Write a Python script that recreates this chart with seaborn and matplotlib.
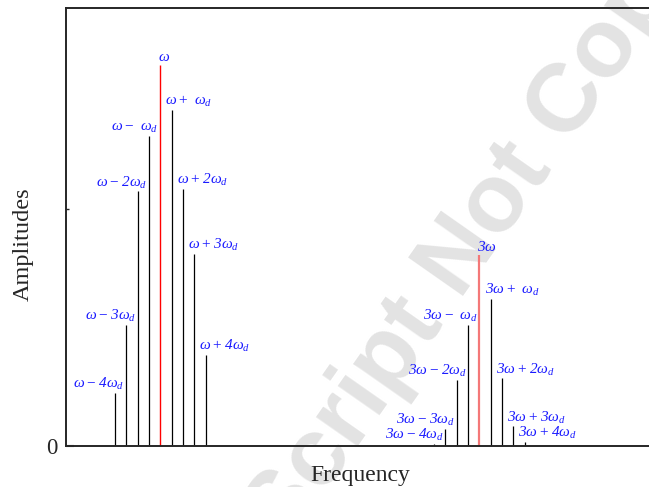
import numpy as np
import pandas as pd
import matplotlib
matplotlib.use("Agg")
import matplotlib.pyplot as plt
import seaborn as sns

sns.set_style("ticks")
plt.rcParams["font.family"] = ["Liberation Serif", "DejaVu Serif"]
plt.rcParams["mathtext.fontset"] = "custom"
plt.rcParams["mathtext.rm"] = "Liberation Serif:italic"
plt.rcParams["mathtext.it"] = "Liberation Serif:italic"

# ----- data -----
w = 1.0        # fundamental
wd = 0.071     # modulation spacing
orders = [-4, -3, -2, -1, 0, 1, 2, 3, 4]
amp_w = [0.139, 0.318, 0.669, 0.814, 1.0, 0.882, 0.675, 0.504, 0.239]
amp_3w = [0.005, 0.045, 0.173, 0.318, 0.501, 0.386, 0.178, 0.052, 0.010]
labels_w = [r"$\omega-4\omega_d$", r"$\omega-3\omega_d$", r"$\omega-2\omega_d$",
            r"$\omega-\ \omega_d$", r"$\omega$", r"$\omega+\ \omega_d$",
            r"$\omega+2\omega_d$", r"$\omega+3\omega_d$", r"$\omega+4\omega_d$"]
labels_3w = [r"$3\omega-4\omega_d$", r"$3\omega-3\omega_d$", r"$3\omega-2\omega_d$",
             r"$3\omega-\ \omega_d$", r"$3\omega$", r"$3\omega+\ \omega_d$",
             r"$3\omega+2\omega_d$", r"$3\omega+3\omega_d$", r"$3\omega+4\omega_d$"]

df = pd.concat([
    pd.DataFrame({"freq": [w + k * wd for k in orders], "amp": amp_w,
                  "k": orders, "label": labels_w, "group": "w"}),
    pd.DataFrame({"freq": [3 * w + k * wd for k in orders], "amp": amp_3w,
                  "k": orders, "label": labels_3w, "group": "3w"}),
], ignore_index=True)

fig = plt.figure(figsize=(6.49, 4.87), dpi=100)
ax = fig.add_axes([66 / 649, 41 / 487, 589 / 649, 438 / 487])
ax.set_facecolor("none")
ax.set_zorder(2)

# watermark (behind the axes content)
fig.text(0.735, 0.52, "Script Not Copy", rotation=55, fontsize=70,
         fontweight="bold", family="Liberation Sans", color="#e3e3e3",
         ha="center", va="center", zorder=0)

side = df[df["k"] != 0]
ax.vlines(side["freq"], 0, side["amp"], color="black", lw=0.9)
ax.vlines(w, 0, df.loc[(df.group == "w") & (df.k == 0), "amp"], color="#ff0000", lw=1.0)
ax.vlines(3 * w, 0, df.loc[(df.group == "3w") & (df.k == 0), "amp"], color="#f47878", lw=1.6)

for _, r in df.iterrows():
    if r["k"] < 0:
        ha, dx = "right", 7.0
    elif r["k"] > 0:
        ha, dx = "left", -4.5
    else:
        ha, dx = "left", -1.5
    ax.annotate(r["label"], (r["freq"], r["amp"]), xytext=(dx, 0.5),
                textcoords="offset points", ha=ha, va="bottom",
                color="#1a1aff", fontsize=11)

ax.set_xlim(0.41, 4.1)
ax.set_ylim(0, 1.15)
ax.set_xticks([])
ax.set_yticks([0])
ax.set_yticklabels(["0"], fontsize=16.5)
ax.set_yticks([0.622], minor=True)
ax.tick_params(axis="y", which="major", direction="in", length=6, width=1.5, pad=6)
ax.tick_params(axis="y", which="minor", direction="in", length=2, width=1)
ax.set_xlabel("Frequency", fontsize=17, labelpad=14)
ax.set_ylabel("Amplitudes", fontsize=17.5)
ax.yaxis.set_label_coords(-0.055, 0.46)
for s in ["left", "bottom", "top"]:
    ax.spines[s].set_linewidth(1.4)
ax.spines["right"].set_visible(False)

fig.savefig("out.png", dpi=100)
